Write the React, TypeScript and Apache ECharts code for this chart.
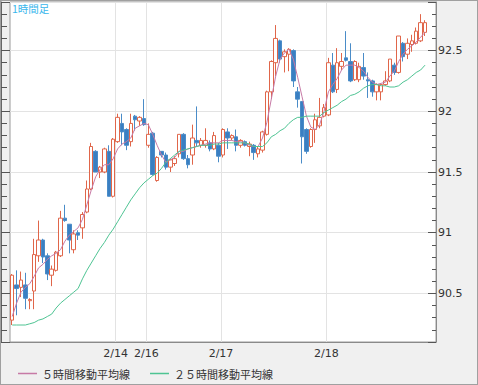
import React, { useEffect, useRef } from 'react';
import * as echarts from 'echarts';

// hourly sessions shown on the x axis
const daySegments = [
  { day: '2/13', from: 0, to: 23 },
  { day: '2/14', from: 0, to: 6 },
  { day: '2/16', from: 7, to: 23 },
  { day: '2/17', from: 0, to: 23 },
  { day: '2/18', from: 0, to: 23 },
];
const dateLabelIndex = [24, 31, 48, 72];
const yTickLabels = [90.5, 91, 91.5, 92, 92.5];

// [open, close, low, high]
const candles: number[][] = [
  [90.28, 90.65, 90.24, 90.66],
  [90.57, 90.54, 90.32, 90.69],
  [90.55, 90.61, 90.47, 90.68],
  [90.57, 90.46, 90.37, 90.67],
  [90.44, 90.45, 90.37, 90.46],
  [90.52, 90.82, 90.37, 90.95],
  [90.81, 90.94, 90.76, 91.10],
  [90.94, 90.80, 90.75, 90.95],
  [90.81, 90.66, 90.61, 90.83],
  [90.65, 90.70, 90.56, 90.73],
  [90.69, 90.84, 90.68, 90.85],
  [90.81, 91.12, 90.80, 91.18],
  [91.12, 91.10, 91.09, 91.23],
  [91.07, 90.94, 90.83, 91.07],
  [90.86, 90.99, 90.83, 91.02],
  [91.00, 90.98, 90.94, 91.02],
  [91.04, 91.15, 90.95, 91.17],
  [91.17, 91.36, 91.16, 91.43],
  [91.36, 91.71, 91.35, 91.74],
  [91.67, 91.50, 91.50, 91.68],
  [91.50, 91.54, 91.45, 91.55],
  [91.50, 91.69, 91.49, 91.70],
  [91.67, 91.30, 91.30, 91.72],
  [91.30, 91.77, 91.29, 91.78],
  [91.75, 91.95, 91.74, 91.98],
  [91.90, 91.83, 91.72, 91.98],
  [91.85, 91.72, 91.68, 91.86],
  [91.75, 91.90, 91.71, 91.98],
  [91.96, 91.93, 91.84, 91.97],
  [91.92, 91.95, 91.88, 91.96],
  [91.94, 91.89, 91.88, 92.10],
  [91.72, 91.81, 91.70, 91.90],
  [91.82, 91.48, 91.47, 91.83],
  [91.43, 91.62, 91.42, 91.63],
  [91.67, 91.64, 91.62, 91.67],
  [91.64, 91.54, 91.52, 91.66],
  [91.54, 91.60, 91.50, 91.61],
  [91.57, 91.61, 91.55, 91.63],
  [91.65, 91.81, 91.62, 91.81],
  [91.81, 91.61, 91.60, 91.82],
  [91.61, 91.56, 91.53, 91.64],
  [91.64, 91.78, 91.56, 91.89],
  [91.76, 91.74, 91.71, 92.04],
  [91.72, 91.76, 91.70, 91.78],
  [91.72, 91.76, 91.70, 91.86],
  [91.74, 91.69, 91.67, 91.76],
  [91.69, 91.80, 91.68, 91.83],
  [91.72, 91.63, 91.58, 91.74],
  [91.64, 91.85, 91.62, 91.86],
  [91.83, 91.78, 91.69, 91.86],
  [91.78, 91.80, 91.76, 91.81],
  [91.79, 91.72, 91.67, 91.85],
  [91.72, 91.76, 91.70, 91.77],
  [91.75, 91.72, 91.71, 91.76],
  [91.71, 91.73, 91.63, 91.75],
  [91.72, 91.66, 91.60, 91.73],
  [91.65, 91.69, 91.62, 91.71],
  [91.68, 91.83, 91.66, 91.84],
  [91.81, 92.16, 91.80, 92.17],
  [92.16, 92.41, 92.10, 92.42],
  [92.40, 92.60, 92.29, 92.71],
  [92.58, 92.43, 92.40, 92.59],
  [92.45, 92.49, 92.32, 92.51],
  [92.47, 92.51, 92.33, 92.52],
  [92.50, 92.25, 92.20, 92.51],
  [92.16, 92.10, 92.03, 92.20],
  [92.08, 91.79, 91.57, 92.08],
  [91.85, 91.67, 91.65, 91.86],
  [91.71, 91.85, 91.70, 91.86],
  [91.85, 91.93, 91.74, 91.98],
  [91.88, 91.95, 91.86, 92.11],
  [91.96, 92.03, 91.95, 92.06],
  [91.97, 92.40, 91.96, 92.44],
  [92.38, 92.16, 92.15, 92.48],
  [92.18, 92.40, 92.15, 92.52],
  [92.37, 92.41, 92.34, 92.48],
  [92.44, 92.42, 92.41, 92.66],
  [92.41, 92.25, 92.24, 92.56],
  [92.26, 92.41, 92.25, 92.42],
  [92.26, 92.37, 92.24, 92.40],
  [92.36, 92.29, 92.26, 92.48],
  [92.26, 92.25, 92.11, 92.32],
  [92.25, 92.16, 92.12, 92.26],
  [92.16, 92.22, 92.09, 92.23],
  [92.16, 92.22, 92.09, 92.22],
  [92.22, 92.25, 92.21, 92.33],
  [92.25, 92.43, 92.24, 92.43],
  [92.38, 92.32, 92.30, 92.40],
  [92.32, 92.62, 92.31, 92.62],
  [92.56, 92.45, 92.41, 92.57],
  [92.47, 92.56, 92.43, 92.60],
  [92.55, 92.58, 92.49, 92.63],
  [92.56, 92.66, 92.55, 92.69],
  [92.58, 92.73, 92.57, 92.80],
  [92.65, 92.73, 92.62, 92.75],
];

const ma5 = [
  90.31, 90.42, 90.51, 90.55, 90.58, 90.64, 90.71, 90.74, 90.78, 90.81,
  90.83, 90.86, 90.93, 90.98, 91.01, 91.04, 91.11, 91.23, 91.35, 91.46,
  91.52, 91.56, 91.56, 91.61, 91.69, 91.73, 91.75, 91.78, 91.86, 91.88,
  91.90, 91.89, 91.81, 91.72, 91.64, 91.58, 91.60, 91.62, 91.67, 91.67,
  91.69, 91.70, 91.71, 91.72, 91.73, 91.74, 91.74, 91.74, 91.76, 91.76,
  91.76, 91.75, 91.75, 91.74, 91.72, 91.71, 91.71, 91.78, 91.91, 92.10,
  92.29, 92.43, 92.48, 92.51, 92.43, 92.28, 92.12, 91.96, 91.87, 91.85,
  91.89, 92.00, 92.16, 92.22, 92.27, 92.34, 92.38, 92.38, 92.38, 92.36,
  92.33, 92.28, 92.24, 92.22, 92.23, 92.24, 92.29, 92.33, 92.41, 92.47,
  92.51, 92.54, 92.57, 92.61, 92.65,
];

const ma25 = [
  90.24, 90.24, 90.24, 90.24, 90.25, 90.26, 90.28, 90.29, 90.31, 90.33,
  90.38, 90.42, 90.45, 90.48, 90.51, 90.54, 90.62, 90.69, 90.75, 90.81,
  90.87, 90.92, 90.98, 91.03, 91.09, 91.15, 91.21, 91.27, 91.32, 91.37,
  91.41, 91.44, 91.47, 91.49, 91.53, 91.58, 91.61, 91.64, 91.67, 91.68,
  91.69, 91.70, 91.71, 91.72, 91.72, 91.72, 91.73, 91.73, 91.74, 91.74,
  91.74, 91.74, 91.74, 91.74, 91.73, 91.71, 91.71, 91.71, 91.74, 91.79,
  91.81, 91.84, 91.86, 91.90, 91.93, 91.95, 91.95, 91.96, 91.96, 91.96,
  91.96, 91.99, 92.01, 92.03, 92.05, 92.08, 92.10, 92.13, 92.14, 92.16,
  92.19, 92.21, 92.22, 92.22, 92.21, 92.21, 92.20, 92.20, 92.21, 92.24,
  92.26, 92.29, 92.32, 92.34, 92.38,
];

const MA5_NAME = '５時間移動平均線';
const MA25_NAME = '２５時間移動平均線';
const MA5_COLOR = '#c77aa6';
const MA25_COLOR = '#4ec493';

export default function App() {
  const ref = useRef<HTMLDivElement>(null);

  useEffect(() => {
    document.body.style.margin = '0';
    if (!ref.current) return;
    const chart = echarts.init(ref.current, null, { renderer: 'svg' });

    const categories: string[] = [];
    daySegments.forEach((s) => {
      for (let h = s.from; h <= s.to; h++) categories.push(`${s.day} ${h}:00`);
    });
    categories.push('2/19 0:00');

    const isLabelIdx = (i: number) => dateLabelIndex.indexOf(i) >= 0;
    const yMin = 90.1;
    const yMax = 92.9;
    const labelFont = 'DejaVu Sans';

    const option: any = {
      animation: false,
      backgroundColor: '#f0f0f0',
      grid: {
        left: 9,
        top: 1,
        width: 426,
        height: 340,
        show: true,
        backgroundColor: '#ffffff',
        borderColor: '#9a9a9a',
        borderWidth: 1,
      },
      graphic: [
        {
          type: 'text',
          left: 11,
          top: 2,
          style: {
            text: '1時間足',
            fill: '#38b6ec',
            fontSize: 10.5,
            fontFamily: 'Noto Sans CJK JP',
          },
        },
      ],
      legend: {
        left: 12,
        top: 362,
        itemWidth: 19,
        itemHeight: 1.5,
        itemGap: 20,
        icon: 'rect',
        textStyle: { fontSize: 11, color: '#333', fontFamily: 'Noto Sans CJK JP' },
        data: [
          { name: MA5_NAME, icon: 'rect', itemStyle: { color: MA5_COLOR } },
          { name: MA25_NAME, icon: 'rect', itemStyle: { color: MA25_COLOR } },
        ],
      },
      xAxis: {
        type: 'category',
        data: categories,
        boundaryGap: true,
        axisLine: { show: true, lineStyle: { color: '#8a8a8a' } },
        axisTick: { show: false },
        axisLabel: {
          interval: (i: number) => isLabelIdx(i),
          formatter: (v: string) => v.split(' ')[0],
          color: '#333',
          fontSize: 11,
          fontFamily: labelFont,
          margin: 6,
          padding: [0, 4, 0, 0],
        },
        splitLine: {
          show: true,
          interval: (i: number) => isLabelIdx(i),
          lineStyle: { color: '#e3e3e3' },
        },
      },
      yAxis: [
        {
          type: 'value',
          position: 'right',
          min: yMin,
          max: yMax,
          interval: 0.1,
          axisLine: { show: true, lineStyle: { color: '#8a8a8a' } },
          axisTick: { show: true, inside: true, length: 4, lineStyle: { color: '#555' } },
          axisLabel: { show: false },
          splitLine: { show: false },
        },
        {
          type: 'value',
          position: 'right',
          min: yMin,
          max: yMax,
          splitNumber: 5,
          axisLine: { show: false },
          axisTick: { show: true, inside: true, length: 8, lineStyle: { color: '#555' } },
          axisLabel: {
            color: '#333',
            fontSize: 11,
            fontFamily: labelFont,
            margin: 2,
            formatter: (v: number) =>
              yTickLabels.some((t) => Math.abs(t - v) < 1e-6) ? String(v) : '',
          },
          splitLine: { show: true, lineStyle: { color: '#e3e3e3' } },
        },
        {
          type: 'value',
          position: 'left',
          offset: 9,
          min: yMin,
          max: yMax,
          interval: 0.1,
          axisLine: { show: true, lineStyle: { color: '#666' } },
          axisTick: { show: true, inside: true, length: 6, lineStyle: { color: '#555' } },
          axisLabel: { show: false },
          splitLine: { show: false },
        },
        {
          type: 'value',
          position: 'left',
          offset: 9,
          min: yMin,
          max: yMax,
          splitNumber: 5,
          axisLine: { show: false },
          axisTick: { show: true, inside: true, length: 9, lineStyle: { color: '#555' } },
          axisLabel: { show: false },
          splitLine: { show: false },
        },
      ],
      series: [
        {
          type: 'candlestick',
          data: candles,
          barWidth: 4,
          itemStyle: {
            color: '#ffffff',
            color0: '#3a7fc2',
            borderColor: '#e0664a',
            borderColor0: '#4a8cc8',
            borderWidth: 1,
          },
        },
        {
          name: MA5_NAME,
          type: 'line',
          data: ma5,
          symbol: 'none',
          lineStyle: { color: MA5_COLOR, width: 1 },
          itemStyle: { color: MA5_COLOR },
        },
        {
          name: MA25_NAME,
          type: 'line',
          data: ma25,
          symbol: 'none',
          lineStyle: { color: MA25_COLOR, width: 1 },
          itemStyle: { color: MA25_COLOR },
        },
      ],
    };

    chart.setOption(option);
    return () => chart.dispose();
  }, []);

  return (
    <div
      style={{
        width: 478,
        height: 385,
        boxSizing: 'border-box',
        border: '1px solid #a0a0a0',
        background: '#f0f0f0',
      }}
    >
      <div ref={ref} style={{ width: 476, height: 383 }} />
    </div>
  );
}
